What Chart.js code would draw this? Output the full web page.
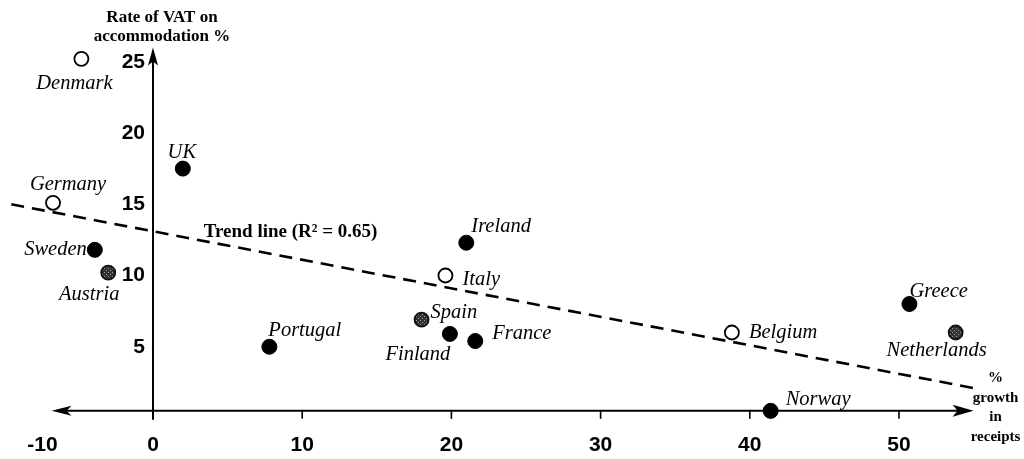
<!DOCTYPE html>
<html><head><meta charset="utf-8">
<script src="https://cdn.jsdelivr.net/npm/chart.js@4.4.1/dist/chart.umd.min.js"></script>
<style>html,body{margin:0;padding:0;background:#fff;}#wrap{width:1024px;height:459px;position:relative;}</style>
</head><body><div id="wrap"><canvas id="c"></canvas></div>
<script>
// ---- data ----
const countries  = ['Denmark','UK','Germany','Sweden','Austria','Portugal','Ireland','Italy','Spain','Finland','France','Belgium','Greece','Netherlands','Norway'];
const growthPct  = [-4.8, 2.0, -6.7, -3.9, -3.0, 7.8, 21.0, 19.6, 18.0, 19.9, 21.6, 38.8, 50.7, 53.8, 41.4];
const vatRate    = [25.2, 17.5, 15.1, 11.8, 10.2, 5.0, 12.3, 10.0, 6.9, 5.9, 5.4, 6.0, 8.0, 6.0, 0.5];
const markerType = ['open','filled','open','filled','hatched','filled','filled','open','hatched','filled','filled','open','filled','hatched','filled'];
const trendX = [-9.5, 55.0];
const trendY = [15.0, 2.1];
const xTickValues = [-10, 0, 10, 20, 30, 40, 50];
const yTickValues = [5, 10, 15, 20, 25];
const yAxisTitle = ['Rate of VAT on', 'accommodation %'];
const xAxisTitle = ['%', 'growth', 'in', 'receipts'];
const trendLabel = 'Trend line (R² = 0.65)';

// ---- layout / style (not data) ----
const xAxisFrom = -6.8, xAxisTo = 55.0, yAxisTop = 26.0, xAxisCrossY = 0.5;
const trendLabelAt = {x: 3.4, y: 13.05};
const labelPlacement = {
  Denmark:{dx:-7,dy:25,align:'center'}, UK:{dx:-1,dy:-16,align:'center'},
  Germany:{dx:15,dy:-18,align:'center'}, Sweden:{dx:-8,dy:0,align:'right'},
  Austria:{dx:-19,dy:22,align:'center'}, Portugal:{dx:-1,dy:-16,align:'left'},
  Ireland:{dx:5,dy:-16,align:'left'}, Italy:{dx:17,dy:4,align:'left'},
  Spain:{dx:9,dy:-7,align:'left'}, Finland:{dx:-32,dy:21,align:'center'},
  France:{dx:17,dy:-7,align:'left'}, Belgium:{dx:17,dy:0,align:'left'},
  Greece:{dx:0,dy:-12,align:'left'}, Netherlands:{dx:-19,dy:18,align:'center'},
  Norway:{dx:15,dy:-11,align:'left'}
};

function hatchPattern(){
  const c=document.createElement('canvas'); c.width=c.height=4;
  const g=c.getContext('2d'); g.fillStyle='#333'; g.fillRect(0,0,4,4);
  g.fillStyle='#a0a0a0'; g.fillRect(0,0,1,1); g.fillRect(2,2,1,1);
  return g.createPattern(c,'repeat');
}
const styles = {
  filled:{bg:'#000', border:'#000', r:7.5, bw:1},
  open:{bg:'#fff', border:'#000', r:7, bw:1.8},
  hatched:{bg:hatchPattern(), border:'#111', r:7, bw:1.8}
};
function pts(type){
  const out=[]; countries.forEach((c,i)=>{ if(markerType[i]===type) out.push({x:growthPct[i], y:vatRate[i], name:c}); }); return out;
}
const scatterSets = ['filled','open','hatched'].map(t=>({
  type:'scatter', data:pts(t), backgroundColor:styles[t].bg, borderColor:styles[t].border,
  borderWidth:styles[t].bw, pointRadius:styles[t].r, pointHoverRadius:styles[t].r, clip:false, order:1
}));
const trendSet = {
  type:'line', data:trendX.map((x,i)=>({x, y:trendY[i]})), borderColor:'#000', borderWidth:2.6,
  borderDash:[13,8], pointRadius:0, fill:false, clip:false, order:2
};

function drawLine(ctx,x1,y1,x2,y2){ctx.beginPath();ctx.moveTo(x1,y1);ctx.lineTo(x2,y2);ctx.stroke();}

const axesPlugin = {
  id:'axes',
  beforeDatasetsDraw(chart){
    const {ctx, scales:{x,y}} = chart;
    const x0 = x.getPixelForValue(0), yA = y.getPixelForValue(xAxisCrossY);
    const xl = x.getPixelForValue(xAxisFrom), xr = x.getPixelForValue(xAxisTo);
    const yt = y.getPixelForValue(yAxisTop);
    ctx.save();
    ctx.strokeStyle='#000'; ctx.fillStyle='#000'; ctx.lineWidth=2;
    drawLine(ctx, xl+6, yA, xr-12, yA);
    ctx.beginPath(); ctx.moveTo(xl, yA); ctx.lineTo(xl+20, yA-5); ctx.lineTo(xl+15, yA); ctx.lineTo(xl+20, yA+5); ctx.closePath(); ctx.fill();
    ctx.beginPath(); ctx.moveTo(xr, yA); ctx.lineTo(xr-21, yA-6); ctx.lineTo(xr-16, yA); ctx.lineTo(xr-21, yA+6); ctx.closePath(); ctx.fill();
    drawLine(ctx, x0, yA+9, x0, yt+12);
    ctx.beginPath(); ctx.moveTo(x0, yt); ctx.lineTo(x0-5, yt+18); ctx.lineTo(x0, yt+14); ctx.lineTo(x0+5, yt+18); ctx.closePath(); ctx.fill();
    ctx.lineWidth=1.6;
    xTickValues.forEach(v=>{ if(v>0){ const px=x.getPixelForValue(v); drawLine(ctx,px,yA,px,yA+8);} });
    ctx.font='bold 21px "Liberation Sans", Arial, sans-serif';
    ctx.textAlign='center'; ctx.textBaseline='middle';
    xTickValues.forEach(v=>{
      const px=Math.max(x.getPixelForValue(v), xl-9);
      ctx.fillText(String(v), px, yA+34);
    });
    ctx.textAlign='right';
    yTickValues.forEach(v=>{ ctx.fillText(String(v), x0-8, y.getPixelForValue(v)); });
    ctx.font='bold 17px "Liberation Serif", "Times New Roman", serif';
    ctx.textAlign='center';
    ctx.fillText(yAxisTitle[0], x0+9, yt-30);
    ctx.fillText(yAxisTitle[1], x0+9, yt-11);
    ctx.font='bold 15px "Liberation Serif", "Times New Roman", serif';
    const offs=[-33,-13,6,26];
    xAxisTitle.forEach((t,i)=>ctx.fillText(t, xr+22, yA+offs[i]));
    ctx.restore();
  },
  afterDatasetsDraw(chart){
    const {ctx, scales:{x,y}} = chart;
    ctx.save();
    ctx.fillStyle='#000'; ctx.textBaseline='middle';
    ctx.font='italic 20.5px "Liberation Serif", "Times New Roman", serif';
    countries.forEach((c,i)=>{
      const p=labelPlacement[c];
      ctx.textAlign=p.align;
      ctx.fillText(c, x.getPixelForValue(growthPct[i])+p.dx, y.getPixelForValue(vatRate[i])+p.dy);
    });
    ctx.font='bold 19px "Liberation Serif", "Times New Roman", serif';
    ctx.textAlign='left';
    ctx.fillText(trendLabel, x.getPixelForValue(trendLabelAt.x), y.getPixelForValue(trendLabelAt.y));
    ctx.restore();
  }
};

new Chart(document.getElementById('c'), {
  type:'scatter',
  data:{datasets:[trendSet, ...scatterSets]},
  options:{
    responsive:true, maintainAspectRatio:false, animation:false,
    layout:{padding:0, autoPadding:false},
    plugins:{legend:{display:false}, tooltip:{enabled:false}},
    events:[],
    scales:{
      x:{type:'linear', min:-10.255, max:58.38, display:false},
      y:{type:'linear', min:-2.877, max:29.33, display:false}
    }
  },
  plugins:[axesPlugin]
});
</script></body></html>
